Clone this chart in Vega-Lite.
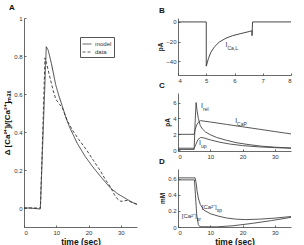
{
  "$schema": "https://vega.github.io/schema/vega-lite/v6.json",
  "padding": {"left": 3, "top": 4, "right": 0, "bottom": 0},
  "config": {
    "font": "Liberation Sans",
    "view": {"stroke": null},
    "mark": {"color": "#333"},
    "axis": {"grid": false, "domainColor": "#444", "domainWidth": 0.8, "tickColor": "#444", "tickWidth": 0.8, "tickSize": -2, "labelPadding": 4, "labelFontSize": 6, "labelColor": "#333", "labelOverlap": false, "titleFontSize": 8, "titleFontWeight": "bold", "titleColor": "#111", "titlePadding": 2},
    "title": {"fontSize": 8, "fontWeight": "bold", "anchor": "start", "offset": 3, "frame": "group", "color": "#111"}
  },
  "hconcat": [
    {
      "title": {"text": "A", "dx": -15},
      "width": 113,
      "height": 209,
      "data": {"values": [
        {"s": "model", "i": 1, "t": 0, "v": 0},
        {"s": "model", "i": 2, "t": 2, "v": 0},
        {"s": "model", "i": 3, "t": 4.8, "v": -0.005},
        {"s": "model", "i": 4, "t": 5.05, "v": -0.005},
        {"s": "model", "i": 5, "t": 6.9, "v": 0.849},
        {"s": "model", "i": 6, "t": 7.5, "v": 0.83},
        {"s": "model", "i": 7, "t": 8.5, "v": 0.76},
        {"s": "model", "i": 8, "t": 9.8, "v": 0.65},
        {"s": "model", "i": 9, "t": 10.8, "v": 0.59},
        {"s": "model", "i": 10, "t": 11.8, "v": 0.54},
        {"s": "model", "i": 11, "t": 12.9, "v": 0.48},
        {"s": "model", "i": 12, "t": 14, "v": 0.43},
        {"s": "model", "i": 13, "t": 16.5, "v": 0.34},
        {"s": "model", "i": 14, "t": 19, "v": 0.27},
        {"s": "model", "i": 15, "t": 21.6, "v": 0.21},
        {"s": "model", "i": 16, "t": 24, "v": 0.16},
        {"s": "model", "i": 17, "t": 26.8, "v": 0.105},
        {"s": "model", "i": 18, "t": 29, "v": 0.075},
        {"s": "model", "i": 19, "t": 31, "v": 0.055},
        {"s": "model", "i": 20, "t": 33, "v": 0.035},
        {"s": "model", "i": 21, "t": 35, "v": 0.018},
        {"s": "data", "i": 1, "t": 0, "v": 0},
        {"s": "data", "i": 2, "t": 5.1, "v": 0},
        {"s": "data", "i": 3, "t": 6.5, "v": 0.79},
        {"s": "data", "i": 4, "t": 7, "v": 0.76},
        {"s": "data", "i": 5, "t": 8, "v": 0.69},
        {"s": "data", "i": 6, "t": 9, "v": 0.62},
        {"s": "data", "i": 7, "t": 9.8, "v": 0.575},
        {"s": "data", "i": 8, "t": 10.8, "v": 0.55},
        {"s": "data", "i": 9, "t": 11.8, "v": 0.53},
        {"s": "data", "i": 10, "t": 12.5, "v": 0.5},
        {"s": "data", "i": 11, "t": 13.4, "v": 0.46},
        {"s": "data", "i": 12, "t": 15, "v": 0.41},
        {"s": "data", "i": 13, "t": 17, "v": 0.36},
        {"s": "data", "i": 14, "t": 19.6, "v": 0.3},
        {"s": "data", "i": 15, "t": 21.5, "v": 0.25},
        {"s": "data", "i": 16, "t": 23.5, "v": 0.2},
        {"s": "data", "i": 17, "t": 25.2, "v": 0.15},
        {"s": "data", "i": 18, "t": 26.8, "v": 0.11},
        {"s": "data", "i": 19, "t": 28, "v": 0.07},
        {"s": "data", "i": 20, "t": 28.8, "v": 0.05},
        {"s": "data", "i": 21, "t": 30, "v": 0.035},
        {"s": "data", "i": 22, "t": 31.9, "v": 0.04},
        {"s": "data", "i": 23, "t": 33.4, "v": 0.03},
        {"s": "data", "i": 24, "t": 35, "v": 0.02}
      ]},
      "mark": {"type": "line", "strokeWidth": 0.9, "color": "#333"},
      "encoding": {
        "x": {"field": "t", "type": "quantitative", "scale": {"domain": [0, 35], "nice": false}, "axis": {"title": "time (sec)", "values": [0, 10, 20, 30], "titleFontSize": 8.5}},
        "y": {"field": "v", "type": "quantitative", "scale": {"domain": [-0.1, 1], "nice": false, "zero": false}, "axis": {"title": "Δ [Ca²⁺]ᵢ/[Ca²⁺]ₘₐₓ", "values": [0, 0.2, 0.4, 0.6, 0.8, 1], "format": "~g"}},
        "strokeDash": {"field": "s", "type": "nominal", "scale": {"domain": ["model", "data"], "range": [[1, 0], [3, 2]]},
          "legend": {"orient": "none", "legendX": 56, "legendY": 19, "title": null, "strokeColor": "#555", "fillColor": "white", "padding": 2, "labelFontSize": 6, "labelColor": "#333", "symbolType": "stroke", "symbolSize": 81, "symbolStrokeWidth": 0.8, "symbolStrokeColor": "#333", "rowPadding": 0, "labelOffset": 3}},
        "order": {"field": "i", "type": "quantitative"}
      }
    },
    {
      "spacing": -1,
      "vconcat": [
        {
          "title": {"text": "B", "dx": -19},
          "width": 113,
          "height": 57,
          "encoding": {
            "x": {"field": "t", "type": "quantitative", "scale": {"domain": [4, 8], "nice": false, "zero": false}, "axis": {"title": null, "values": [4, 5, 6, 7, 8]}},
            "y": {"field": "v", "type": "quantitative", "scale": {"domain": [-54, 4], "nice": false, "zero": false}, "axis": {"title": "pA", "values": [0, -20, -40], "titleFontSize": 6.5}}
          },
          "layer": [
            {
              "data": {"values": [
                {"i": 1, "t": 4, "v": 0},
                {"i": 2, "t": 5, "v": 0},
                {"i": 3, "t": 5, "v": -45},
                {"i": 4, "t": 5.08, "v": -37},
                {"i": 5, "t": 5.16, "v": -31},
                {"i": 6, "t": 5.3, "v": -25},
                {"i": 7, "t": 5.46, "v": -20.5},
                {"i": 8, "t": 5.7, "v": -16.5},
                {"i": 9, "t": 5.93, "v": -14},
                {"i": 10, "t": 6.2, "v": -12},
                {"i": 11, "t": 6.52, "v": -9.8},
                {"i": 12, "t": 6.62, "v": -9},
                {"i": 13, "t": 6.62, "v": -14},
                {"i": 14, "t": 6.64, "v": 0},
                {"i": 15, "t": 8, "v": 0}
              ]},
              "mark": {"type": "line", "strokeWidth": 0.9, "color": "#333"},
              "encoding": {"order": {"field": "i", "type": "quantitative"}}
            },
            {
              "data": {"values": [{"t": 5.75, "v": -23, "m": "I", "s": "Ca,L"}]},
              "layer": [
                {"mark": {"type": "text", "align": "right", "baseline": "middle", "fontSize": 7, "color": "#333"}, "encoding": {"text": {"field": "m"}}},
                {"mark": {"type": "text", "align": "left", "baseline": "middle", "fontSize": 5, "dy": 3, "color": "#333"}, "encoding": {"text": {"field": "s"}}}
              ]
            }
          ]
        },
        {
          "title": {"text": "C", "dx": -19},
          "width": 113,
          "height": 58,
          "encoding": {
            "x": {"field": "t", "type": "quantitative", "scale": {"domain": [0, 35], "nice": false}, "axis": {"title": null, "values": [0, 10, 20, 30]}},
            "y": {"field": "v", "type": "quantitative", "scale": {"domain": [-0.1, 7.2], "nice": false, "zero": false}, "axis": {"title": "pA", "values": [0, 2, 4, 6], "titleFontSize": 6.5}}
          },
          "layer": [
            {
              "data": {"values": [
                {"s": "CaP", "t": 0, "v": 2}, {"s": "CaP", "t": 5, "v": 2}, {"s": "CaP", "t": 5.3, "v": 2.6}, {"s": "CaP", "t": 5.8, "v": 3.2}, {"s": "CaP", "t": 6.5, "v": 3.6}, {"s": "CaP", "t": 7, "v": 3.72}, {"s": "CaP", "t": 10, "v": 3.55}, {"s": "CaP", "t": 15, "v": 3.25}, {"s": "CaP", "t": 20, "v": 2.95}, {"s": "CaP", "t": 25, "v": 2.65}, {"s": "CaP", "t": 30, "v": 2.35}, {"s": "CaP", "t": 35, "v": 2.05},
                {"s": "rel", "t": 0, "v": 0.1}, {"s": "rel", "t": 5, "v": 0.1}, {"s": "rel", "t": 5.3, "v": 3.5}, {"s": "rel", "t": 5.6, "v": 6.0}, {"s": "rel", "t": 5.9, "v": 5.0}, {"s": "rel", "t": 6.3, "v": 4.0}, {"s": "rel", "t": 6.9, "v": 3.1}, {"s": "rel", "t": 7.5, "v": 2.7}, {"s": "rel", "t": 8.5, "v": 2.3}, {"s": "rel", "t": 10, "v": 1.95}, {"s": "rel", "t": 12, "v": 1.6}, {"s": "rel", "t": 15, "v": 1.25}, {"s": "rel", "t": 18, "v": 0.95}, {"s": "rel", "t": 22, "v": 0.7}, {"s": "rel", "t": 26, "v": 0.5}, {"s": "rel", "t": 30, "v": 0.38}, {"s": "rel", "t": 35, "v": 0.28},
                {"s": "up", "t": 0, "v": 0.25}, {"s": "up", "t": 5, "v": 0.25}, {"s": "up", "t": 5.5, "v": 0.7}, {"s": "up", "t": 6.2, "v": 1.35}, {"s": "up", "t": 7, "v": 1.6}, {"s": "up", "t": 8, "v": 1.55}, {"s": "up", "t": 10, "v": 1.3}, {"s": "up", "t": 13, "v": 1.0}, {"s": "up", "t": 16, "v": 0.78}, {"s": "up", "t": 20, "v": 0.58}, {"s": "up", "t": 25, "v": 0.42}, {"s": "up", "t": 30, "v": 0.32}, {"s": "up", "t": 35, "v": 0.25}
              ]},
              "mark": {"type": "line", "strokeWidth": 0.9, "color": "#444"},
              "encoding": {"detail": {"field": "s", "type": "nominal"}}
            },
            {
              "data": {"values": [
                {"t": 7.75, "v": 5.6, "m": "I", "s": "rel"},
                {"t": 18.3, "v": 3.7, "m": "I", "s": "CaP"},
                {"t": 7.1, "v": 0.85, "m": "I", "s": "up"}
              ]},
              "layer": [
                {"mark": {"type": "text", "align": "right", "baseline": "middle", "fontSize": 7, "color": "#333"}, "encoding": {"text": {"field": "m"}}},
                {"mark": {"type": "text", "align": "left", "baseline": "middle", "fontSize": 5, "dy": 3, "color": "#333"}, "encoding": {"text": {"field": "s"}}}
              ]
            }
          ]
        },
        {
          "title": {"text": "D", "dx": -19},
          "width": 113,
          "height": 58,
          "encoding": {
            "x": {"field": "t", "type": "quantitative", "scale": {"domain": [0, 35], "nice": false}, "axis": {"title": "time (sec)", "values": [0, 10, 20, 30], "titleFontSize": 8.5}},
            "y": {"field": "v", "type": "quantitative", "scale": {"domain": [0, 0.72], "nice": false}, "axis": {"title": "mM", "values": [0, 0.2, 0.4, 0.6], "format": "~g", "titleFontSize": 6.5}}
          },
          "layer": [
            {
              "data": {"values": [
                {"s": "sp", "t": 0, "v": 0.61}, {"s": "sp", "t": 5.3, "v": 0.61}, {"s": "sp", "t": 5.6, "v": 0.55}, {"s": "sp", "t": 5.9, "v": 0.45}, {"s": "sp", "t": 6.3, "v": 0.36}, {"s": "sp", "t": 6.9, "v": 0.28}, {"s": "sp", "t": 8, "v": 0.21}, {"s": "sp", "t": 10, "v": 0.165}, {"s": "sp", "t": 12.5, "v": 0.135}, {"s": "sp", "t": 15, "v": 0.112}, {"s": "sp", "t": 18, "v": 0.097}, {"s": "sp", "t": 21, "v": 0.092}, {"s": "sp", "t": 25, "v": 0.097}, {"s": "sp", "t": 30, "v": 0.11}, {"s": "sp", "t": 35, "v": 0.13},
                {"s": "sr", "t": 0, "v": 0.585}, {"s": "sr", "t": 5.1, "v": 0.585}, {"s": "sr", "t": 5.4, "v": 0.4}, {"s": "sr", "t": 5.8, "v": 0.15}, {"s": "sr", "t": 6.3, "v": 0.03}, {"s": "sr", "t": 6.8, "v": 0.003}, {"s": "sr", "t": 12, "v": 0.002}, {"s": "sr", "t": 17, "v": 0.015}, {"s": "sr", "t": 23, "v": 0.045}, {"s": "sr", "t": 29, "v": 0.08}, {"s": "sr", "t": 35, "v": 0.12}
              ]},
              "mark": {"type": "line", "strokeWidth": 0.9, "color": "#444"},
              "encoding": {"detail": {"field": "s", "type": "nominal"}}
            },
            {
              "data": {"values": [
                {"t": 12.0, "v": 0.25, "m": "[Ca²⁺]", "s": "sp"},
                {"t": 5.8, "v": 0.14, "m": "[Ca²⁺]", "s": "sr"}
              ]},
              "layer": [
                {"mark": {"type": "text", "align": "right", "baseline": "middle", "fontSize": 6, "color": "#333"}, "encoding": {"text": {"field": "m"}}},
                {"mark": {"type": "text", "align": "left", "baseline": "middle", "fontSize": 5, "dy": 3, "color": "#333"}, "encoding": {"text": {"field": "s"}}}
              ]
            }
          ]
        }
      ]
    }
  ],
  "spacing": 18
}
